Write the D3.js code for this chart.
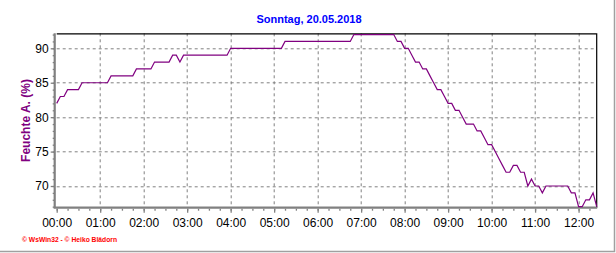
<!DOCTYPE html>
<html>
<head>
<meta charset="utf-8">
<script src="https://cdn.jsdelivr.net/npm/d3@7"></script>
<style>
	html, body { margin: 0; padding: 0; background: #fff; }
	#appHumidity { width: 616px; height: 253px; }
	svg { display: block; font-family: "Liberation Sans", Arial, sans-serif; }
</style>
</head>
<body>
<div id="appHumidity"></div>
<script>
///////////////////////////////////////////////////////////////////////////
//////////////////////////// data /////////////////////////////////////////
///////////////////////////////////////////////////////////////////////////

const title = "Sonntag, 20.05.2018";
const yLabel = "Feuchte A. (%)";
const credit = "\u00a9 WsWin32 - \u00a9 Heiko Bl\u00e4dorn";

// readings (time of day, relative humidity)
const times = [
	"00:00", "00:05", "00:10", "00:15", "00:30", "00:35", "01:10", "01:15",
	"01:45", "01:50", "02:10", "02:15", "02:35", "02:40", "02:45", "02:50",
	"02:55", "03:55", "04:00", "05:10", "05:15", "06:45", "06:50", "07:45",
	"07:50", "07:55", "08:00", "08:05", "08:10", "08:15", "08:20", "08:25",
	"08:30", "08:35", "08:40", "08:45", "08:50", "08:55", "09:00", "09:05",
	"09:10", "09:15", "09:20", "09:25", "09:35", "09:40", "09:45", "09:50",
	"09:55", "10:00", "10:05", "10:10", "10:15", "10:20", "10:25", "10:30",
	"10:35", "10:40", "10:45", "10:50", "10:55", "11:00", "11:05", "11:10",
	"11:15", "11:45", "11:50", "11:55", "12:00", "12:05", "12:10", "12:15",
	"12:20", "12:25"
];
const humidity = [
	82, 83, 83, 84, 84, 85, 85, 86,
	86, 87, 87, 88, 88, 89, 89, 88,
	89, 89, 90, 90, 91, 91, 92, 92,
	91, 91, 90, 90, 89, 88, 88, 87,
	87, 86, 85, 84, 84, 83, 82, 82,
	81, 81, 80, 79, 79, 78, 78, 77,
	76, 76, 75, 74, 73, 72, 72, 73,
	73, 72, 72, 70, 71, 70, 70, 69,
	70, 70, 69, 69, 67, 67, 68, 68,
	69, 67
];

const xTicks = [
	"00:00", "01:00", "02:00", "03:00", "04:00", "05:00", "06:00",
	"07:00", "08:00", "09:00", "10:00", "11:00", "12:00"
];
const yTicks = [70, 75, 80, 85, 90];
const xDomain = ["00:00", "12:25"];
const yDomain = [66.85, 92.18];

///////////////////////////////////////////////////////////////////////////
//////////////////////////// drawing function /////////////////////////////
///////////////////////////////////////////////////////////////////////////

const toMinutes = (s) => {
	const [h, m] = s.split(":").map(Number);
	return h * 60 + m;
};

const createChart = () => {
	const data = times.map((t, i) => ({ t: toMinutes(t), v: humidity[i] }));

	const xAccessor = (d) => d.t;
	const yAccessor = (d) => d.v;

	//////////////////////////// sizes ////////////////////////////////////////

	let dimensions = {
		width: 616,
		height: 253,
		margin: {
			top: 33.3,
			right: 19.3,
			bottom: 45.3,
			left: 56.7
		}
	};
	dimensions.boundedWidth =
		dimensions.width - dimensions.margin.left - dimensions.margin.right;
	dimensions.boundedHeight =
		dimensions.height - dimensions.margin.top - dimensions.margin.bottom;

	const gridColor = "#808080";
	const lineColor = "#800080";

	//////////////////////////// svg //////////////////////////////////////////

	const wrapper = d3
		.select("#appHumidity")
		.append("svg")
		.attr("width", dimensions.width)
		.attr("height", dimensions.height);

	// panel frame (right and bottom edge)
	wrapper
		.append("path")
		.attr("d", `M${dimensions.width - 1.5},0V${dimensions.height - 1.5}H0`)
		.attr("fill", "none")
		.attr("stroke", "#a0a0a0")
		.attr("stroke-width", 1.5);

	const bounds = wrapper
		.append("g")
		.attr(
			"transform",
			`translate(${dimensions.margin.left},${dimensions.margin.top})`
		);

	//////////////////////////// scales ///////////////////////////////////////

	const xScale = d3
		.scaleLinear()
		.domain(xDomain.map(toMinutes))
		.range([0, dimensions.boundedWidth]);

	const yScale = d3
		.scaleLinear()
		.domain(yDomain)
		.range([dimensions.boundedHeight, 0]);

	//////////////////////////// grid /////////////////////////////////////////

	const grid = bounds.append("g").attr("class", "grid");

	grid
		.selectAll(".hgrid")
		.data(yTicks)
		.enter()
		.append("line")
		.attr("class", "hgrid")
		.attr("x1", 0)
		.attr("x2", dimensions.boundedWidth)
		.attr("y1", (d) => Math.round(yScale(d)) + 0.5)
		.attr("y2", (d) => Math.round(yScale(d)) + 0.5)
		.attr("stroke", gridColor)
		.attr("stroke-dasharray", "3,3");

	grid
		.selectAll(".vgrid")
		.data(xTicks.slice(1))
		.enter()
		.append("line")
		.attr("class", "vgrid")
		.attr("x1", (d) => Math.round(xScale(toMinutes(d))) + 0.5)
		.attr("x2", (d) => Math.round(xScale(toMinutes(d))) + 0.5)
		.attr("y1", 0)
		.attr("y2", dimensions.boundedHeight)
		.attr("stroke", gridColor)
		.attr("stroke-dasharray", "3,3");

	//////////////////////////// axes /////////////////////////////////////////

	// minor ticks: every unit on y, every quarter hour on x
	const yMinor = d3.range(Math.ceil(yDomain[0]), Math.floor(yDomain[1]) + 1);
	const xMinor = d3.range(0, toMinutes(xDomain[1]) + 1, 15);

	const yAxisGenerator = d3
		.axisLeft()
		.scale(yScale)
		.tickValues(yTicks)
		.tickSize(4)
		.tickPadding(2);

	const yAxis = bounds
		.append("g")
		.attr("class", "yAxis")
		.attr("transform", "translate(-2,0)")
		.call(yAxisGenerator);

	const yAxisMinor = bounds
		.append("g")
		.attr("transform", "translate(-2,0)")
		.call(
			d3.axisLeft().scale(yScale).tickValues(yMinor).tickSize(2).tickFormat("")
		);

	const xAxisGenerator = d3
		.axisBottom()
		.scale(xScale)
		.tickValues(xTicks.map(toMinutes))
		.tickFormat((d, i) => xTicks[i])
		.tickSize(4)
		.tickPadding(6);

	const xAxis = bounds
		.append("g")
		.attr("class", "xAxis")
		.attr("transform", `translate(0,${dimensions.boundedHeight + 1})`)
		.call(xAxisGenerator);

	const xAxisMinor = bounds
		.append("g")
		.attr("transform", `translate(0,${dimensions.boundedHeight + 1})`)
		.call(
			d3.axisBottom().scale(xScale).tickValues(xMinor).tickSize(2).tickFormat("")
		);

	[yAxis, yAxisMinor, xAxis, xAxisMinor].forEach((ax) => {
		ax.select(".domain").remove();
		ax.selectAll(".tick line").attr("stroke", gridColor).attr("stroke-width", 1.3);
	});

	[yAxis, xAxis].forEach((ax) => {
		ax.selectAll(".tick text")
			.attr("fill", "#000")
			.style("font-size", "12px")
			.style("font-family", "'Liberation Sans', Arial, sans-serif");
	});

	//////////////////////////// frame ////////////////////////////////////////

	// top and right edge black, left and bottom axis gray
	bounds
		.append("path")
		.attr("d", `M0,0.5H${dimensions.boundedWidth}V${dimensions.boundedHeight}`)
		.attr("fill", "none")
		.attr("stroke", "#000")
		.attr("stroke-width", 1.2);

	bounds
		.append("path")
		.attr(
			"d",
			`M-2,0V${dimensions.boundedHeight}H${dimensions.boundedWidth + 0.5}`
		)
		.attr("fill", "none")
		.attr("stroke", gridColor)
		.attr("stroke-width", 2.2);

	//////////////////////////// plot /////////////////////////////////////////

	const lineGenerator = d3
		.line()
		.x((d) => xScale(xAccessor(d)))
		.y((d) => yScale(yAccessor(d)));

	bounds
		.append("path")
		.datum(data)
		.attr("d", lineGenerator)
		.attr("fill", "none")
		.attr("stroke", lineColor)
		.attr("stroke-width", 1.2);

	//////////////////////////// texts ////////////////////////////////////////

	wrapper
		.append("text")
		.attr("x", 309)
		.attr("y", 23)
		.attr("text-anchor", "middle")
		.attr("fill", "#0000ff")
		.style("font-size", "11px")
		.style("font-weight", "bold")
		.text(title);

	wrapper
		.append("text")
		.attr("transform", "translate(30,120.5) rotate(-90)")
		.attr("text-anchor", "middle")
		.attr("fill", lineColor)
		.style("font-size", "12px")
		.style("font-weight", "bold")
		.text(yLabel);

	wrapper
		.append("text")
		.attr("x", 22)
		.attr("y", 241.5)
		.attr("fill", "#ff0000")
		.attr("textLength", 95)
		.attr("lengthAdjust", "spacingAndGlyphs")
		.style("font-size", "7px")
		.style("font-weight", "bold")
		.text(credit);
};

createChart();
</script>
</body>
</html>
